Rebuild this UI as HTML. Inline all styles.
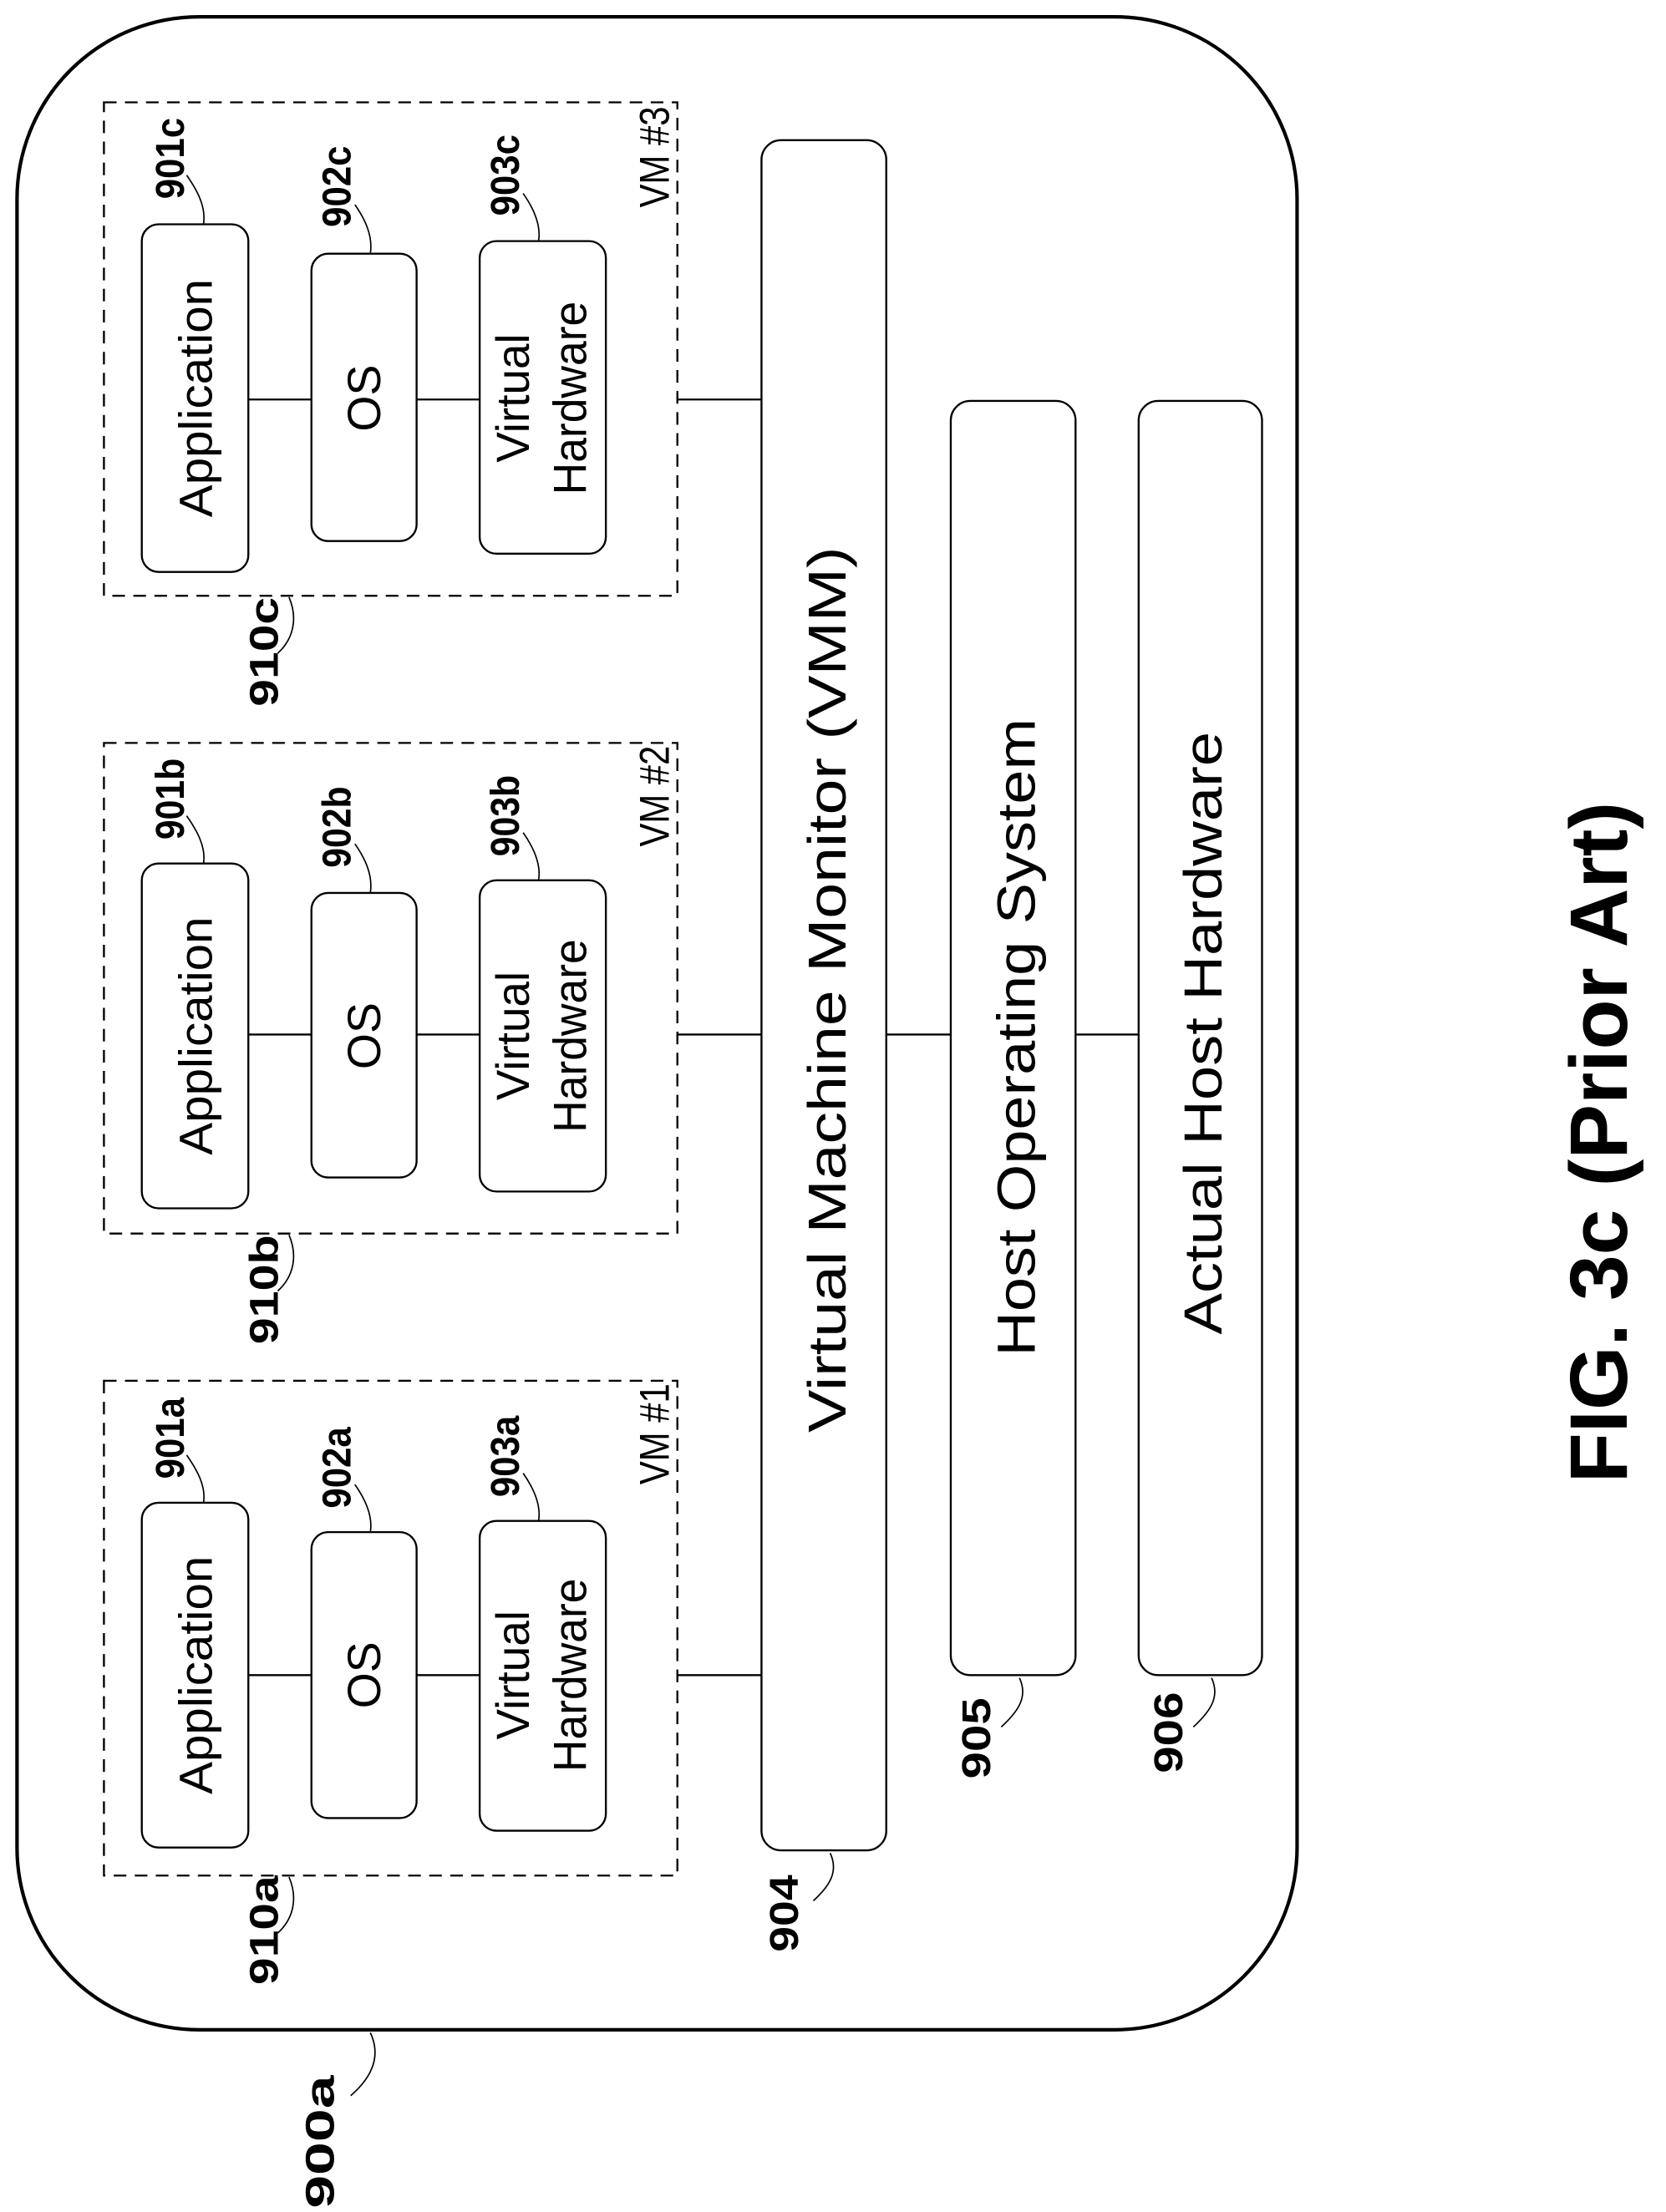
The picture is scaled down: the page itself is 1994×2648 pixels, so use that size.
<!DOCTYPE html>
<html><head><meta charset="utf-8"><style>html,body{margin:0;padding:0;background:#fff}svg{display:block}</style></head>
<body>
<svg width="1994" height="2648" viewBox="0 0 1188 1578" xmlns="http://www.w3.org/2000/svg" font-family="Liberation Sans, Arial, sans-serif">
<rect x="0" y="0" width="1188" height="1578" fill="#fff"/>
<rect x="12" y="12" width="913" height="1436" rx="130" ry="130" fill="none" stroke="#000" stroke-width="2.5"/>
<g fill="none" stroke="#000" stroke-width="1.4">
<rect x="74" y="73" width="409" height="352" stroke-dasharray="9,6"/>
<rect x="74" y="530" width="409" height="350" stroke-dasharray="9,6"/>
<rect x="74" y="985" width="409" height="353" stroke-dasharray="9,6"/>
<rect x="101" y="160" width="76" height="248" rx="12"/>
<rect x="222" y="181" width="75" height="205" rx="12"/>
<rect x="342" y="172" width="90" height="223" rx="12"/>
<rect x="101" y="616" width="76" height="246" rx="12"/>
<rect x="222" y="637" width="75" height="203" rx="12"/>
<rect x="342" y="628" width="90" height="222" rx="12"/>
<rect x="101" y="1072" width="76" height="246" rx="12"/>
<rect x="222" y="1093" width="75" height="204" rx="12"/>
<rect x="342" y="1085" width="90" height="221" rx="12"/>
<rect x="543" y="100" width="89" height="1220" rx="14"/>
<rect x="678" y="286" width="89" height="909" rx="14"/>
<rect x="812" y="286" width="88" height="909" rx="14"/>
<path d="M177 285H222M297 285H342M483 285H543M177 738H222M297 738H342M483 738H543M177 1195H222M297 1195H342M483 1195H543M632 738H678M767 738H812"/>
</g>
<g fill="none" stroke="#000" stroke-width="1">
<path d="M133 125C140 135 147 147 145 160"/>
<path d="M253 146C260 156 266 168 264 181"/>
<path d="M373 138C380 148 386 160 384 172"/>
<path d="M133 582C140 592 147 604 145 616"/>
<path d="M253 602C260 612 266 624 264 637"/>
<path d="M373 594C380 604 386 616 384 628"/>
<path d="M133 1038C140 1048 147 1060 145 1072"/>
<path d="M253 1059C260 1069 266 1081 264 1093"/>
<path d="M373 1051C380 1061 386 1073 384 1085"/>
<path d="M206 426C212 440 210 455 198 466"/>
<path d="M206 881C212 895 210 910 198 921"/>
<path d="M206 1339C212 1353 210 1368 198 1379"/>
<path d="M592 1322C598 1335 592 1345 580 1356"/>
<path d="M727 1197C733 1210 727 1220 714 1232"/>
<path d="M864 1197C870 1210 864 1220 851 1232"/>
<path d="M264 1450C272 1467 265 1482 250 1495"/>
</g>
<g font-size="33" text-anchor="middle" fill="#000">
<text transform="translate(151,284) rotate(-90)" textLength="170" lengthAdjust="spacingAndGlyphs">Application</text>
<text transform="translate(271,284) rotate(-90)">OS</text>
<text transform="translate(377,284) rotate(-90)" textLength="92" lengthAdjust="spacingAndGlyphs">Virtual</text>
<text transform="translate(418,284) rotate(-90)" textLength="138" lengthAdjust="spacingAndGlyphs">Hardware</text>
<text transform="translate(151,739) rotate(-90)" textLength="170" lengthAdjust="spacingAndGlyphs">Application</text>
<text transform="translate(271,739) rotate(-90)">OS</text>
<text transform="translate(377,739) rotate(-90)" textLength="92" lengthAdjust="spacingAndGlyphs">Virtual</text>
<text transform="translate(418,739) rotate(-90)" textLength="138" lengthAdjust="spacingAndGlyphs">Hardware</text>
<text transform="translate(151,1195) rotate(-90)" textLength="170" lengthAdjust="spacingAndGlyphs">Application</text>
<text transform="translate(271,1195) rotate(-90)">OS</text>
<text transform="translate(377,1195) rotate(-90)" textLength="92" lengthAdjust="spacingAndGlyphs">Virtual</text>
<text transform="translate(418,1195) rotate(-90)" textLength="138" lengthAdjust="spacingAndGlyphs">Hardware</text>
</g>
<g font-size="38" text-anchor="middle" fill="#000">
<text transform="translate(603,706) rotate(-90)" textLength="632" lengthAdjust="spacingAndGlyphs">Virtual Machine Monitor (VMM)</text>
<text transform="translate(738,740) rotate(-90)" textLength="455" lengthAdjust="spacingAndGlyphs">Host Operating System</text>
<text transform="translate(871,737) rotate(-90)" textLength="430" lengthAdjust="spacingAndGlyphs">Actual Host Hardware</text>
</g>
<g font-size="30" text-anchor="middle" fill="#000">
<text transform="translate(477,112) rotate(-90)" textLength="72" lengthAdjust="spacingAndGlyphs">VM #3</text>
<text transform="translate(477,568) rotate(-90)" textLength="72" lengthAdjust="spacingAndGlyphs">VM #2</text>
<text transform="translate(477,1023) rotate(-90)" textLength="72" lengthAdjust="spacingAndGlyphs">VM #1</text>
</g>
<g font-size="29" font-weight="bold" text-anchor="middle" fill="#000">
<text transform="translate(131,113) rotate(-90)" textLength="58" lengthAdjust="spacingAndGlyphs">901c</text>
<text transform="translate(250,133) rotate(-90)" textLength="58" lengthAdjust="spacingAndGlyphs">902c</text>
<text transform="translate(370,125) rotate(-90)" textLength="58" lengthAdjust="spacingAndGlyphs">903c</text>
<text transform="translate(131,570) rotate(-90)" textLength="58" lengthAdjust="spacingAndGlyphs">901b</text>
<text transform="translate(250,590) rotate(-90)" textLength="58" lengthAdjust="spacingAndGlyphs">902b</text>
<text transform="translate(370,582) rotate(-90)" textLength="58" lengthAdjust="spacingAndGlyphs">903b</text>
<text transform="translate(131,1026) rotate(-90)" textLength="58" lengthAdjust="spacingAndGlyphs">901a</text>
<text transform="translate(250,1047) rotate(-90)" textLength="58" lengthAdjust="spacingAndGlyphs">902a</text>
<text transform="translate(370,1039) rotate(-90)" textLength="58" lengthAdjust="spacingAndGlyphs">903a</text>
<text transform="translate(198,465) rotate(-90)" textLength="78" lengthAdjust="spacingAndGlyphs">910c</text>
<text transform="translate(198,920) rotate(-90)" textLength="78" lengthAdjust="spacingAndGlyphs">910b</text>
<text transform="translate(198,1377) rotate(-90)" textLength="78" lengthAdjust="spacingAndGlyphs">910a</text>
<text transform="translate(569,1365) rotate(-90)" textLength="55" lengthAdjust="spacingAndGlyphs">904</text>
<text transform="translate(706,1240) rotate(-90)" textLength="58" lengthAdjust="spacingAndGlyphs">905</text>
<text transform="translate(843,1236) rotate(-90)" textLength="58" lengthAdjust="spacingAndGlyphs">906</text>
<text transform="translate(238,1528) rotate(-90)" textLength="95" lengthAdjust="spacingAndGlyphs">900a</text>
</g>
<text transform="translate(1160,815) rotate(-90)" font-size="58" font-weight="bold" text-anchor="middle" textLength="486" lengthAdjust="spacingAndGlyphs" fill="#000">FIG. 3c (Prior Art)</text>
</svg>
</body></html>
